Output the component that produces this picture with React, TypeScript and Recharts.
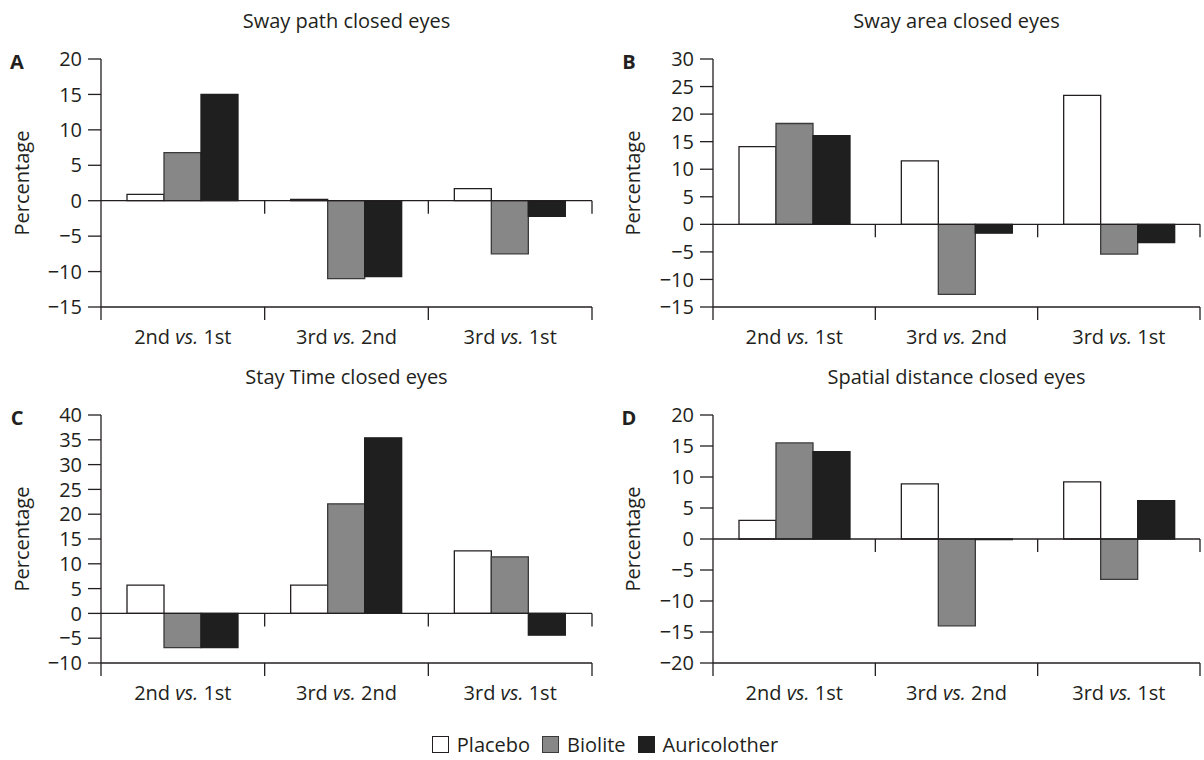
import React from "react";
import { BarChart, Bar, XAxis, YAxis, ReferenceLine } from "recharts";

// comparisons on the x axis, groups in the legend
const comparisons = ["2nd vs. 1st", "3rd vs. 2nd", "3rd vs. 1st"];
const groups = ["Placebo", "Biolite", "Auricolother"];

// A: sway path
const pathPlacebo = [0.9, 0.2, 1.7];
const pathBiolite = [6.8, -11.0, -7.5];
const pathAuricolother = [15.0, -10.7, -2.2];
const pathTicks = [-15, -10, -5, 0, 5, 10, 15, 20];

// B: sway area
const areaPlacebo = [14.1, 11.5, 23.4];
const areaBiolite = [18.3, -12.7, -5.4];
const areaAuricolother = [16.1, -1.6, -3.3];
const areaTicks = [-15, -10, -5, 0, 5, 10, 15, 20, 25, 30];

// C: stay time
const timePlacebo = [5.7, 5.7, 12.6];
const timeBiolite = [-6.9, 22.1, 11.4];
const timeAuricolother = [-6.9, 35.4, -4.4];
const timeTicks = [-10, -5, 0, 5, 10, 15, 20, 25, 30, 35, 40];

// D: spatial distance
const distPlacebo = [3.0, 8.9, 9.2];
const distBiolite = [15.5, -14.0, -6.5];
const distAuricolother = [14.1, -0.1, 6.2];
const distTicks = [-20, -15, -10, -5, 0, 5, 10, 15, 20];

const FONT = "'Open Sans', sans-serif";
const INK = "#231f20";
const fills = ["#ffffff", "#878787", "#1f1f1f"];
const strokes = ["#231f20", "#3a3a3a", "#1f1f1f"];

const fmt = (v: number) => (v < 0 ? "\u2212" + Math.abs(v) : String(v));

// horizontal line with short ticks hanging below at the category borders
const tickedLine = (withFirst: boolean) => (p: any) => {
  const { x1, y1, x2, y2 } = p;
  const n = comparisons.length;
  const step = (x2 - x1) / n;
  const idx = [];
  for (let i = withFirst ? 0 : 1; i <= n; i++) idx.push(i);
  return (
    <g>
      <line x1={x1} y1={y1} x2={x2} y2={y2} stroke={INK} strokeWidth={1.3} />
      {idx.map((i) => (
        <line key={i} x1={x1 + step * i} x2={x1 + step * i} y1={y1} y2={y1 + 13} stroke={INK} strokeWidth={1.3} />
      ))}
    </g>
  );
};

const CategoryTick = (props: any) => {
  const { x, y, payload } = props;
  const [a, b] = String(payload.value).split(" vs. ");
  return (
    <text x={x} y={y + 29} textAnchor="middle" fill={INK} fontFamily={FONT} fontSize={20}>
      <tspan>{a} </tspan>
      <tspan fontStyle="italic">vs.</tspan>
      <tspan> {b}</tspan>
    </text>
  );
};

interface PanelProps {
  letter: string;
  title: string;
  left: number;
  top: number;
  width: number;
  axisWidth: number;
  right: number;
  ticks: number[];
  placebo: number[];
  biolite: number[];
  auricolother: number[];
}

function Panel(p: PanelProps) {
  const data = comparisons.map((name, i) => ({
    name,
    placebo: p.placebo[i],
    biolite: p.biolite[i],
    auricolother: p.auricolother[i],
  }));
  const lo = p.ticks[0];
  const hi = p.ticks[p.ticks.length - 1];
  const plotTop = 59;
  const plotH = 248;
  const plotMid = p.left + p.axisWidth + (p.width - p.axisWidth - p.right) / 2;
  const keys = ["placebo", "biolite", "auricolother"];
  return (
    <>
      <div style={{ position: "absolute", left: plotMid, top: p.top + 20, transform: "translate(-50%,-50%)", fontSize: 20, whiteSpace: "nowrap" }}>
        {p.title}
      </div>
      <div style={{ position: "absolute", left: p.left + (p.left ? 29 : 17), top: p.top + 61, transform: "translate(-50%,-50%)", fontSize: 20, fontWeight: 700 }}>
        {p.letter}
      </div>
      <div style={{ position: "absolute", left: p.left + (p.left ? 32 : 21), top: p.top + plotTop + plotH / 2, transform: "translate(-50%,-50%) rotate(-90deg)", fontSize: 20, whiteSpace: "nowrap" }}>
        Percentage
      </div>
      <div style={{ position: "absolute", left: p.left, top: p.top }}>
        <BarChart width={p.width} height={350} data={data} margin={{ top: plotTop, right: p.right, left: 0, bottom: 3 }} barGap={0}>
          <XAxis dataKey="name" axisLine={false} tickLine={false} height={40} interval={0} tick={<CategoryTick />} />
          <YAxis
            width={p.axisWidth}
            domain={[lo, hi]}
            ticks={p.ticks}
            interval={0}
            tickSize={13}
            tickMargin={6}
            tickFormatter={fmt}
            axisLine={{ stroke: INK, strokeWidth: 1.3 }}
            tickLine={{ stroke: INK, strokeWidth: 1.3 }}
            tick={{ fill: INK, fontFamily: FONT, fontSize: 20 }}
          />
          {keys.map((k, i) => (
            <Bar key={k} dataKey={k} name={groups[i]} fill={fills[i]} stroke={strokes[i]} strokeWidth={1.3} barSize={37} isAnimationActive={false} />
          ))}
          <ReferenceLine y={0} ifOverflow="visible" shape={tickedLine(false)} />
          <ReferenceLine y={lo} ifOverflow="visible" shape={tickedLine(true)} />
        </BarChart>
      </div>
    </>
  );
}

export default function App() {
  return (
    <div style={{ position: "absolute", left: 0, top: 0, width: 1204, height: 760, background: "#fff", fontFamily: FONT, color: INK }}>
      <Panel letter="A" title="Sway path closed eyes" left={0} top={0} width={600} axisWidth={101} right={8}
        ticks={pathTicks} placebo={pathPlacebo} biolite={pathBiolite} auricolother={pathAuricolother} />
      <Panel letter="B" title="Sway area closed eyes" left={600} top={0} width={604} axisWidth={113} right={4}
        ticks={areaTicks} placebo={areaPlacebo} biolite={areaBiolite} auricolother={areaAuricolother} />
      <Panel letter="C" title="Stay Time closed eyes" left={0} top={356} width={600} axisWidth={101} right={8}
        ticks={timeTicks} placebo={timePlacebo} biolite={timeBiolite} auricolother={timeAuricolother} />
      <Panel letter="D" title="Spatial distance closed eyes" left={600} top={356} width={604} axisWidth={113} right={4}
        ticks={distTicks} placebo={distPlacebo} biolite={distBiolite} auricolother={distAuricolother} />
      <div style={{ position: "absolute", left: 0, width: 1204, top: 731, display: "flex", justifyContent: "center", alignItems: "center", fontSize: 20, paddingLeft: 18, boxSizing: "border-box" }}>
        {groups.map((g, i) => (
          <span key={g} style={{ display: "inline-flex", alignItems: "center", marginRight: 12 }}>
            <span style={{ width: 15, height: 15, background: fills[i], border: `1.3px solid ${strokes[i]}`, marginRight: 8, display: "inline-block" }} />
            {g}
          </span>
        ))}
      </div>
    </div>
  );
}
